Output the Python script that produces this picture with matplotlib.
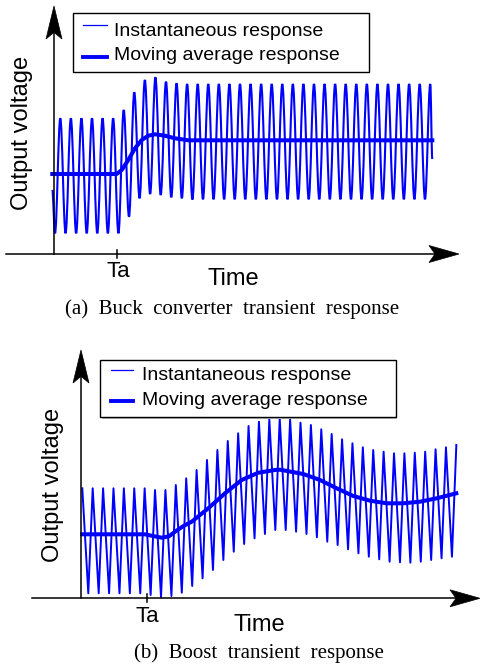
import numpy as np
import matplotlib
matplotlib.use("Agg")
import matplotlib.pyplot as plt
from matplotlib.path import Path
from matplotlib.patches import PathPatch, Polygon, Rectangle

# ---- Panel (a): buck converter ----
# wave extrema (arbitrary voltage units), one trough + one peak per cycle
a_period = 10.571
a_troughs = [20.7] * 7 + [37.3, 55.7, 60.0, 59.0, 56.7, 55.7, 54.5] + [54.7] * 22
a_peaks = [135.7] * 6 + [144.0, 161.7, 174.0, 176.7, 172.3, 170.7] + [170.0] * 24
a_start = (-1.7, 64.0)
a_end = (378.3, 95.0)
# moving average
a_avg_t = [-1.7, 62.7, 67.7, 74.3, 81.0, 87.7, 94.3, 101.0, 111.0, 121.0, 134.3, 378.3]
a_avg_v = [80.0, 80.0, 84.0, 94.0, 105.7, 114.0, 118.3, 119.7, 118.3, 115.7, 113.7, 113.7]
a_ta = 63.0

# ---- Panel (b): boost converter ----
b_period = 10.39
b_peaks = [110.0] * 7 + [108.3, 108.3, 113.3, 120.0, 128.3, 138.3, 148.3, 157.3, 165.0,
                         172.3, 176.6, 179.0, 180.0, 179.0, 175.6, 173.3, 169.0, 164.3,
                         159.0, 155.0, 151.0, 148.3, 146.6, 145.0, 145.0, 145.6, 146.6,
                         149.0, 151.0, 153.3]
b_troughs = [5.0] * 6 + [3.3, 1.0, 2.3, 5.6, 12.3, 20.0, 28.3, 38.3, 46.6, 54.3, 60.0,
                         64.3, 68.3, 68.3, 66.6, 64.3, 61.0, 56.6, 53.3, 49.0, 45.0,
                         41.6, 39.0, 36.6, 36.0, 35.6, 36.6, 38.3, 40.0, 41.6]
b_avg_t = [1.3, 64.0, 72.0, 80.7, 88.0, 94.0, 102.0, 110.7, 127.3, 144.0, 160.7, 177.3,
           194.0, 199.0, 222.3, 239.0, 255.7, 272.3, 289.0, 305.7, 322.3, 339.0, 355.7, 375.3]
b_avg_v = [64.0, 64.0, 62.3, 60.6, 62.0, 66.6, 72.0, 76.6, 90.0, 105.0, 118.3, 125.6,
           128.3, 128.6, 124.3, 118.3, 110.0, 102.3, 97.6, 95.0, 95.0, 96.6, 100.0, 105.0]
b_ta = 65.7

legend_labels = ["Instantaneous response", "Moving average response"]
BLUE = "#0000ff"
SANS = ["Liberation Sans", "DejaVu Sans"]
SERIF = ["Liberation Serif", "DejaVu Serif"]

W, H = 481, 670
fig = plt.figure(figsize=(W / 100, H / 100), dpi=100)


def make_axes(x0, y0, top, bottom):
    # one data unit = one pixel, origin at the drawn axes corner
    ax = fig.add_axes([0, 1 - bottom / H, 1, (bottom - top) / H])
    ax.set_xlim(-x0, W - x0)
    ax.set_ylim(y0 - bottom, y0 - top)
    ax.axis("off")
    return ax


def smooth_path(ts, vs):
    # cubic segments with flat tangents at each extremum
    verts = [(ts[0], vs[0])]
    codes = [Path.MOVETO]
    for i in range(len(ts) - 1):
        h = ts[i + 1] - ts[i]
        verts += [(ts[i] + 0.3634 * h, vs[i]), (ts[i + 1] - 0.3634 * h, vs[i + 1]),
                  (ts[i + 1], vs[i + 1])]
        codes += [Path.CURVE4] * 3
    return Path(verts, codes)


def arrowhead(ax, tip, direction, L=31, Wd=16):
    tx, ty = tip
    if direction == "up":
        pts = [(tx, ty), (tx - Wd / 2, ty - L), (tx, ty - 0.8 * L), (tx + Wd / 2, ty - L)]
    else:
        pts = [(tx, ty), (tx - L, ty + Wd / 2), (tx - 0.8 * L, ty), (tx - L, ty - Wd / 2)]
    ax.add_patch(Polygon(pts, closed=True, facecolor="black", edgecolor="black",
                         lw=0.5, zorder=5, clip_on=False))


def draw_frame(ax, ytip, xstart, xtip, ta, ta_lab, time_lab, ylab, caption, leg):
    ax.plot([0, 0], [0, ytip - 20], color="black", lw=1.1, zorder=4)
    ax.plot([xstart, xtip - 20], [0, 0], color="black", lw=1.1, zorder=4)
    arrowhead(ax, (0, ytip), "up", L=33, Wd=16)
    arrowhead(ax, (xtip, 0), "right", L=30, Wd=17)
    ax.plot([ta, ta], [-4, 4], color="black", lw=1.1, zorder=4)
    ax.text(ta_lab[0], ta_lab[1], "Ta", fontsize=16, family=SANS, ha="center", va="center")
    ax.text(time_lab[0], time_lab[1], "Time", fontsize=17, family=SANS,
            ha="center", va="center")
    ax.text(ylab[0], ylab[1], "Output voltage", fontsize=17, family=SANS,
            rotation=90, ha="center", va="center")
    ax.text(caption[1], caption[2], caption[0], fontsize=15, family=SERIF,
            ha="center", va="center")
    # legend box drawn by hand
    (l, r, b, t), hx, thin_y, thick_y, tx, rows = leg
    ax.add_patch(Rectangle((l + 1.5, b - 1.5), r - l, t - b, facecolor="#bbbbbb",
                           edgecolor="none", zorder=5))
    ax.add_patch(Rectangle((l, b), r - l, t - b, facecolor="white",
                           edgecolor="black", lw=1.0, zorder=6))
    ax.plot(hx, [thin_y, thin_y], color=BLUE, lw=0.9, zorder=7)
    ax.plot(hx, [thick_y, thick_y], color=BLUE, lw=2.8, zorder=7)
    for lab, ry in zip(legend_labels, rows):
        ax.text(tx, ry, lab, fontsize=14, family=SANS, ha="left", va="center", zorder=7)


# ---------------- Panel (a) ----------------
ax1 = make_axes(54, 254, 0, 325)
ts = [a_start[0]]
vs = [a_start[1]]
for k in range(len(a_peaks)):
    ts += [1 + k * a_period, 1 + (k + 0.5) * a_period]
    vs += [a_troughs[k], a_peaks[k]]
ts.append(a_end[0])
vs.append(a_end[1])
ax1.add_patch(PathPatch(smooth_path(ts, vs), facecolor="none", edgecolor=BLUE,
                        lw=1.5, zorder=2))
ax1.plot(a_avg_t, a_avg_v, color=BLUE, lw=2.9, solid_joinstyle="round", zorder=3)
draw_frame(ax1, ytip=248, xstart=-48, xtip=405, ta=a_ta,
           ta_lab=(64, -18), time_lab=(179, -25), ylab=(-32, 121),
           caption=("(a)  Buck  converter  transient  response", 178, -55),
           leg=((18.7, 315, 182.3, 240.7), [29.3, 53.3], 229, 196.7, 60, [223, 198]))

# ---------------- Panel (b) ----------------
ax2 = make_axes(81, 598.3, 325, 670)
tb = []
vb = []
for k in range(len(b_peaks)):
    tb.append(1.3 + k * b_period)
    vb.append(b_peaks[k])
    if k < len(b_troughs):
        tb.append(7.3 + k * b_period)
        vb.append(b_troughs[k])
ax2.plot(tb, vb, color=BLUE, lw=1.4, zorder=2)
ax2.plot(b_avg_t, b_avg_v, color=BLUE, lw=2.9, solid_joinstyle="round", zorder=3)
draw_frame(ax2, ytip=248.3, xstart=-48.7, xtip=399, ta=b_ta,
           ta_lab=(66, -18.7), time_lab=(178, -26.7), ylab=(-28, 113.3),
           caption=("(b)  Boost  transient  response", 178, -54.7),
           leg=((19, 314.7, 181, 238.3), [30, 52.3], 228.3, 197.3, 60.7, [222.7, 197.7]))

fig.savefig("out.png", dpi=100)
